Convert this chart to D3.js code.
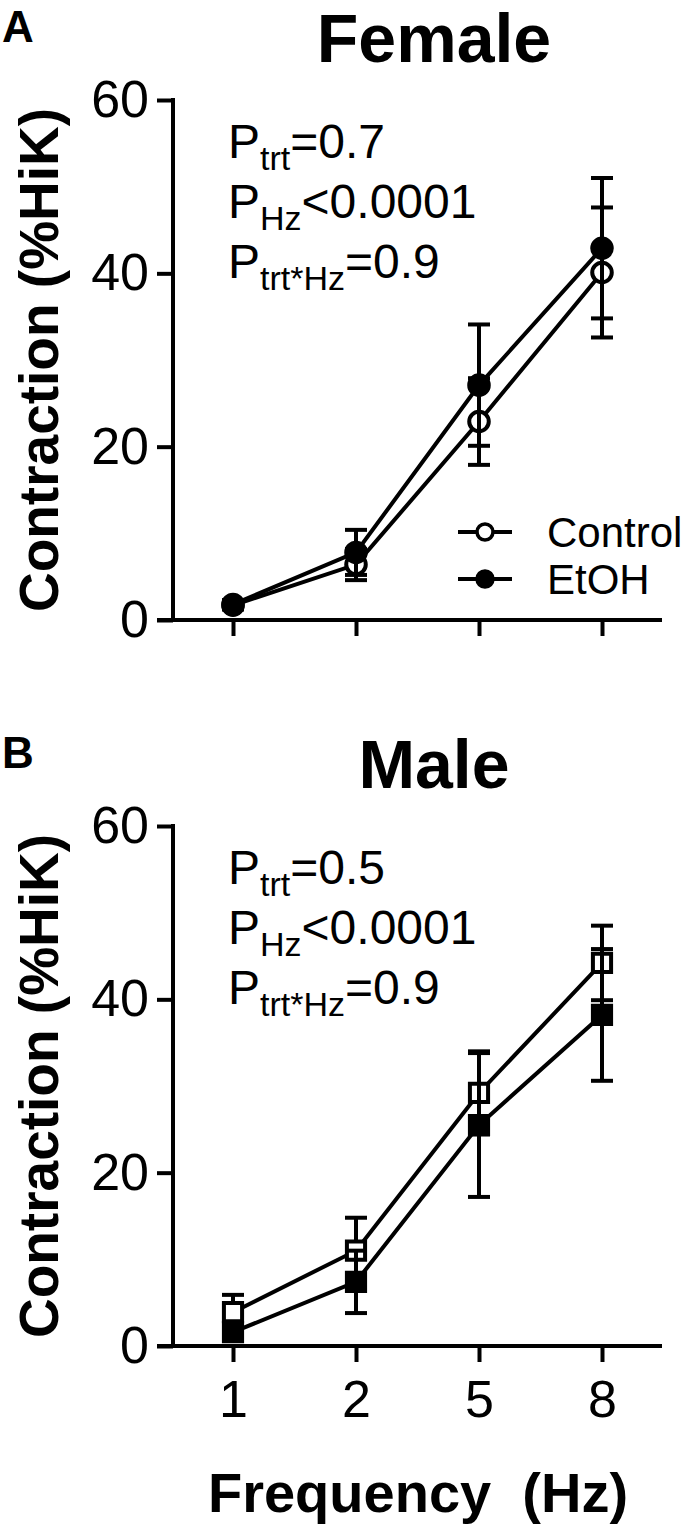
<!DOCTYPE html>
<html>
<head>
<meta charset="utf-8">
<script src="https://cdn.jsdelivr.net/npm/d3@7"></script>
<style>
  body { margin: 0; background: #fff; }
  svg { display: block; font-family: "Liberation Sans", Arial, sans-serif; }
</style>
</head>
<body>
<svg id="fig" width="685" height="1531"></svg>
<script>
// frequencies on the x axis
var freqs = ['1', '2', '5', '8'];
var yTicks = [0, 20, 40, 60];

// female: mean and SEM
var femaleControl = [1.7, 6.4, 22.9, 40.1];
var femaleControlErr = [0.5, 1.8, 5.0, 7.5];
var femaleEtoh = [1.8, 7.8, 27.1, 42.9];
var femaleEtohErr = [0.5, 2.6, 7.0, 8.1];

// male
var maleControl = [3.9, 11.0, 29.2, 44.2];
var maleControlErr = [2.0, 3.8, 4.8, 4.3];
var maleEtoh = [1.6, 7.4, 25.5, 38.2];
var maleEtohErr = [0.6, 3.6, 8.3, 7.6];

var femaleStats = [['P', 'trt', '=0.7'], ['P', 'Hz', '<0.0001'], ['P', 'trt*Hz', '=0.9']];
var maleStats = [['P', 'trt', '=0.5'], ['P', 'Hz', '<0.0001'], ['P', 'trt*Hz', '=0.9']];

var svg = d3.select('#fig');

// shared x scale (categorical, evenly spaced)
var x = d3.scalePoint()
  .domain(freqs)
  .range([233, 602]);

function drawPanel(opt) {
  var g = svg.append('g');
  var y = d3.scaleLinear().domain([0, 60]).range([opt.bottom, opt.bottom - 520]);

  // panel letter and title
  g.append('text').attr('x', 2).attr('y', opt.bottom - 578)
    .attr('font-size', 44).attr('font-weight', 'bold').text(opt.letter);
  g.append('text').attr('x', 434).attr('y', opt.bottom - 558)
    .attr('text-anchor', 'middle').attr('font-size', 68).attr('font-weight', 'bold')
    .text(opt.title);

  // y axis
  var yAxis = d3.axisLeft(y).tickValues(yTicks).tickSize(16).tickPadding(8);
  var ya = g.append('g').attr('transform', 'translate(173,0)').call(yAxis);
  ya.select('.domain').remove();
  ya.append('line').attr('x1', 0).attr('x2', 0).attr('y1', y(60) - 2).attr('y2', y(0))
    .attr('stroke', '#000').attr('stroke-width', 4);
  ya.selectAll('.tick line').attr('stroke-width', 4);
  ya.selectAll('.tick text').attr('font-size', 52).attr('fill', '#000')
    .attr('font-family', '"Liberation Sans", Arial, sans-serif');

  // x axis
  var xAxis = d3.axisBottom(x).tickSize(16).tickPadding(18);
  var xa = g.append('g').attr('transform', 'translate(0,' + opt.bottom + ')').call(xAxis);
  xa.select('.domain').remove();
  xa.append('line').attr('x1', 157).attr('x2', 662).attr('y1', 0).attr('y2', 0)
    .attr('stroke', '#000').attr('stroke-width', 4);
  xa.selectAll('.tick line').attr('stroke-width', 4);
  xa.selectAll('.tick text').attr('font-size', 52).attr('fill', '#000')
    .attr('font-family', '"Liberation Sans", Arial, sans-serif')
    .style('display', opt.showXLabels ? null : 'none');

  // y axis title
  g.append('text')
    .attr('transform', 'translate(58,' + (opt.bottom - 260) + ') rotate(-90)')
    .attr('text-anchor', 'middle').attr('font-size', 55).attr('font-weight', 'bold')
    .text('Contraction (%HiK)');

  // stats text
  opt.stats.forEach(function (s, i) {
    var t = g.append('text').attr('x', 228).attr('y', opt.bottom - 462 + i * 60)
      .attr('font-size', 48);
    t.append('tspan').text(s[0]);
    t.append('tspan').attr('font-size', 34).attr('dy', 12).text(s[1]);
    t.append('tspan').attr('dy', -12).text(s[2]);
  });

  // series
  opt.series.forEach(function (s) {
    var pts = freqs.map(function (f, i) { return { f: f, v: s.values[i], e: s.err[i] }; });
    var sg = g.append('g');

    var eb = sg.selectAll('.err').data(pts).enter().append('g');
    eb.append('line')
      .attr('x1', function (d) { return x(d.f); }).attr('x2', function (d) { return x(d.f); })
      .attr('y1', function (d) { return y(d.v - d.e); }).attr('y2', function (d) { return y(d.v + d.e); })
      .attr('stroke', '#000').attr('stroke-width', 4);
    [-1, 1].forEach(function (sgn) {
      eb.append('line')
        .attr('x1', function (d) { return x(d.f) - 11; }).attr('x2', function (d) { return x(d.f) + 11; })
        .attr('y1', function (d) { return y(d.v + sgn * d.e); }).attr('y2', function (d) { return y(d.v + sgn * d.e); })
        .attr('stroke', '#000').attr('stroke-width', 4);
    });

    sg.append('path').datum(pts)
      .attr('fill', 'none').attr('stroke', '#000').attr('stroke-width', 4)
      .attr('d', d3.line().x(function (d) { return x(d.f); }).y(function (d) { return y(d.v); }));

    var sym = d3.symbol().type(opt.shape).size(opt.shape === d3.symbolSquare ? 330 : 300);
    sg.selectAll('.pt').data(pts).enter().append('path')
      .attr('transform', function (d) { return 'translate(' + x(d.f) + ',' + y(d.v) + ')'; })
      .attr('d', sym)
      .attr('fill', s.open ? '#fff' : '#000')
      .attr('stroke', '#000').attr('stroke-width', 4);
  });

  // legend
  if (opt.legend) {
    opt.series.forEach(function (s, i) {
      var ly = 532 + i * 47;
      g.append('line').attr('x1', 458).attr('x2', 512).attr('y1', ly).attr('y2', ly)
        .attr('stroke', '#000').attr('stroke-width', 4);
      g.append('path').attr('transform', 'translate(485,' + ly + ')')
        .attr('d', d3.symbol().type(d3.symbolCircle).size(200))
        .attr('fill', s.open ? '#fff' : '#000').attr('stroke', '#000').attr('stroke-width', 3.5);
      g.append('text').attr('x', 547).attr('y', ly + 15).attr('font-size', 42).text(s.name);
    });
  }
}

drawPanel({
  bottom: 620, letter: 'A', title: 'Female', stats: femaleStats, showXLabels: false,
  shape: d3.symbolCircle, legend: true,
  series: [
    { name: 'Control', values: femaleControl, err: femaleControlErr, open: true },
    { name: 'EtOH', values: femaleEtoh, err: femaleEtohErr, open: false }
  ]
});

drawPanel({
  bottom: 1346, letter: 'B', title: 'Male', stats: maleStats, showXLabels: true,
  shape: d3.symbolSquare, legend: false,
  series: [
    { name: 'Control', values: maleControl, err: maleControlErr, open: true },
    { name: 'EtOH', values: maleEtoh, err: maleEtohErr, open: false }
  ]
});

// x axis title
svg.append('text').attr('x', 418).attr('y', 1512)
  .attr('text-anchor', 'middle').attr('font-size', 56).attr('font-weight', 'bold')
  .attr('xml:space', 'preserve')
  .text('Frequency  (Hz)');
</script>
</body>
</html>
